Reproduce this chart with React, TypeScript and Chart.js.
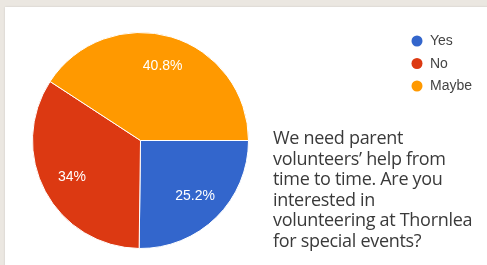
import React, { useEffect, useRef } from "react";
import { Chart, registerables } from "chart.js";

Chart.register(...registerables);

const labels = ["Yes", "No", "Maybe"];
const values = [25.2, 34, 40.8];
const colors = ["#3366cc", "#dc3912", "#ff9900"];
const valueLabels = ["25.2%", "34%", "40.8%"];
const titleLines = [
  "We need parent",
  "volunteers\u2019 help from",
  "time to time. Are you",
  "interested in",
  "volunteering at Thornlea",
  "for special events?",
];

const sliceLabelPlugin = {
  id: "sliceLabels",
  afterDatasetsDraw(chart: any) {
    const ctx = chart.ctx;
    const meta = chart.getDatasetMeta(0);
    ctx.save();
    ctx.font = "14px 'Liberation Sans', Arial, sans-serif";
    ctx.fillStyle = "#ffffff";
    ctx.textAlign = "center";
    ctx.textBaseline = "middle";
    meta.data.forEach((arc: any, i: number) => {
      const p = arc.getProps(["x", "y", "startAngle", "endAngle", "outerRadius"], true);
      const mid = (p.startAngle + p.endAngle) / 2;
      const r = p.outerRadius * 0.72;
      ctx.fillText(valueLabels[i], p.x + Math.cos(mid) * r, p.y + Math.sin(mid) * r);
    });
    ctx.restore();
  },
};

const legendPlugin = {
  id: "customLegend",
  afterDraw(chart: any) {
    const ctx = chart.ctx;
    ctx.save();
    ctx.font = "14px 'Liberation Sans', Arial, sans-serif";
    ctx.textBaseline = "middle";
    ctx.textAlign = "left";
    const x0 = 417;
    const y0 = 41;
    const step = 22.5;
    chart.data.labels.forEach((lab: string, i: number) => {
      const y = y0 + i * step;
      ctx.beginPath();
      ctx.fillStyle = chart.data.datasets[0].backgroundColor[i];
      ctx.arc(x0, y, 5.5, 0, Math.PI * 2);
      ctx.fill();
      ctx.fillStyle = "#444444";
      ctx.fillText(lab, 430, y + 0.5);
    });
    ctx.restore();
  },
};

export default function App() {
  const ref = useRef<HTMLCanvasElement>(null);
  useEffect(() => {
    if (!ref.current) return;
    const chart = new Chart(ref.current, {
      type: "pie",
      data: {
        labels,
        datasets: [
          {
            data: values,
            backgroundColor: colors,
            borderColor: "#ffffff",
            borderWidth: 1,
            hoverOffset: 0,
          },
        ],
      },
      options: {
        responsive: false,
        animation: false,
        devicePixelRatio: 1,
        rotation: 90,
        layout: { padding: { left: 32, top: 32, right: 238, bottom: 16 } },
        plugins: {
          legend: { display: false },
          tooltip: { enabled: false },
        },
      },
      plugins: [sliceLabelPlugin, legendPlugin],
    });
    return () => chart.destroy();
  }, []);

  return (
    <div
      style={{
        position: "absolute",
        left: 0,
        top: 0,
        width: 487,
        height: 265,
        overflow: "hidden",
        background: "#ebe7e1",
      }}
    >
      <div
        style={{
          position: "absolute",
          left: 5,
          top: 7,
          width: 500,
          height: 280,
          background: "#ffffff",
          boxShadow: "0 0 2px rgba(0,0,0,0.12)",
        }}
      />
      <canvas
        ref={ref}
        width={487}
        height={265}
        style={{ position: "absolute", left: 0, top: 0 }}
      />
      <div
        style={{
          position: "absolute",
          left: 273,
          top: 127,
          fontFamily: "'Open Sans', sans-serif",
          fontSize: 18,
          lineHeight: "20.6px",
          letterSpacing: "-0.3px",
          color: "#3a3a3a",
          whiteSpace: "nowrap",
        }}
      >
        {titleLines.map((l, i) => (
          <div key={i}>{l}</div>
        ))}
      </div>
    </div>
  );
}
